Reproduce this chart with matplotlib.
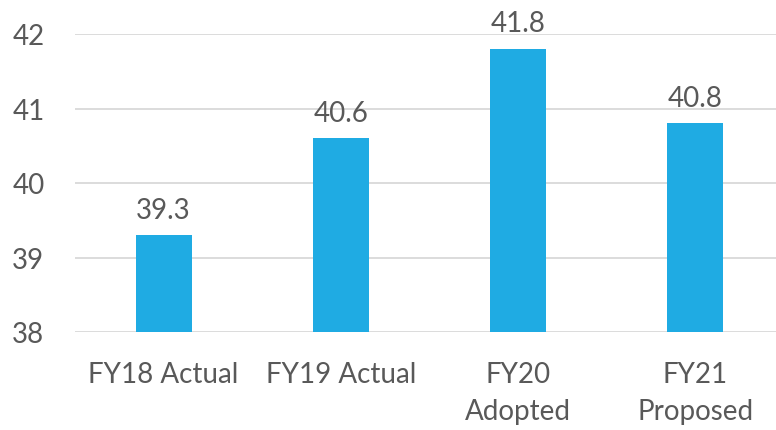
import matplotlib
matplotlib.use("Agg")
import matplotlib.pyplot as plt

categories = ["FY18 Actual", "FY19 Actual", "FY20\nAdopted", "FY21\nProposed"]
values = [39.3, 40.6, 41.8, 40.8]
yticks = [38, 39, 40, 41, 42]

plt.rcParams['font.family'] = ['Lato', 'DejaVu Sans']
text_color = "#595959"
bar_color = "#1FABE3"

fig = plt.figure(figsize=(7.76, 4.31), dpi=100)
ax = fig.add_axes([75/776, 98/431, 709/776, 298/431])
x = list(range(len(categories)))
ax.bar(x, values, width=0.315, color=bar_color, zorder=3)
ax.set_xlim(-0.5, len(categories) - 0.5)
ax.set_ylim(38, 42)
ax.set_yticks(yticks)
ax.set_xticks(x)
ax.set_xticklabels(categories, fontsize=20, color=text_color, linespacing=1.5, va='top')
ax.tick_params(axis='x', length=0, pad=21)
ax.tick_params(axis='y', length=0, pad=22, labelsize=20, labelcolor=text_color)
ax.grid(axis='y', color='#D9D9D9', linewidth=1.3, zorder=0)
for s in ax.spines.values():
    s.set_visible(False)
for xi, v in zip(x, values):
    ax.annotate(f"{v:.1f}", (xi, v), xytext=(0, 9), textcoords='offset points',
                ha='center', va='bottom', fontsize=20, color=text_color, clip_on=False)

fig.savefig("out.png", dpi=100)
